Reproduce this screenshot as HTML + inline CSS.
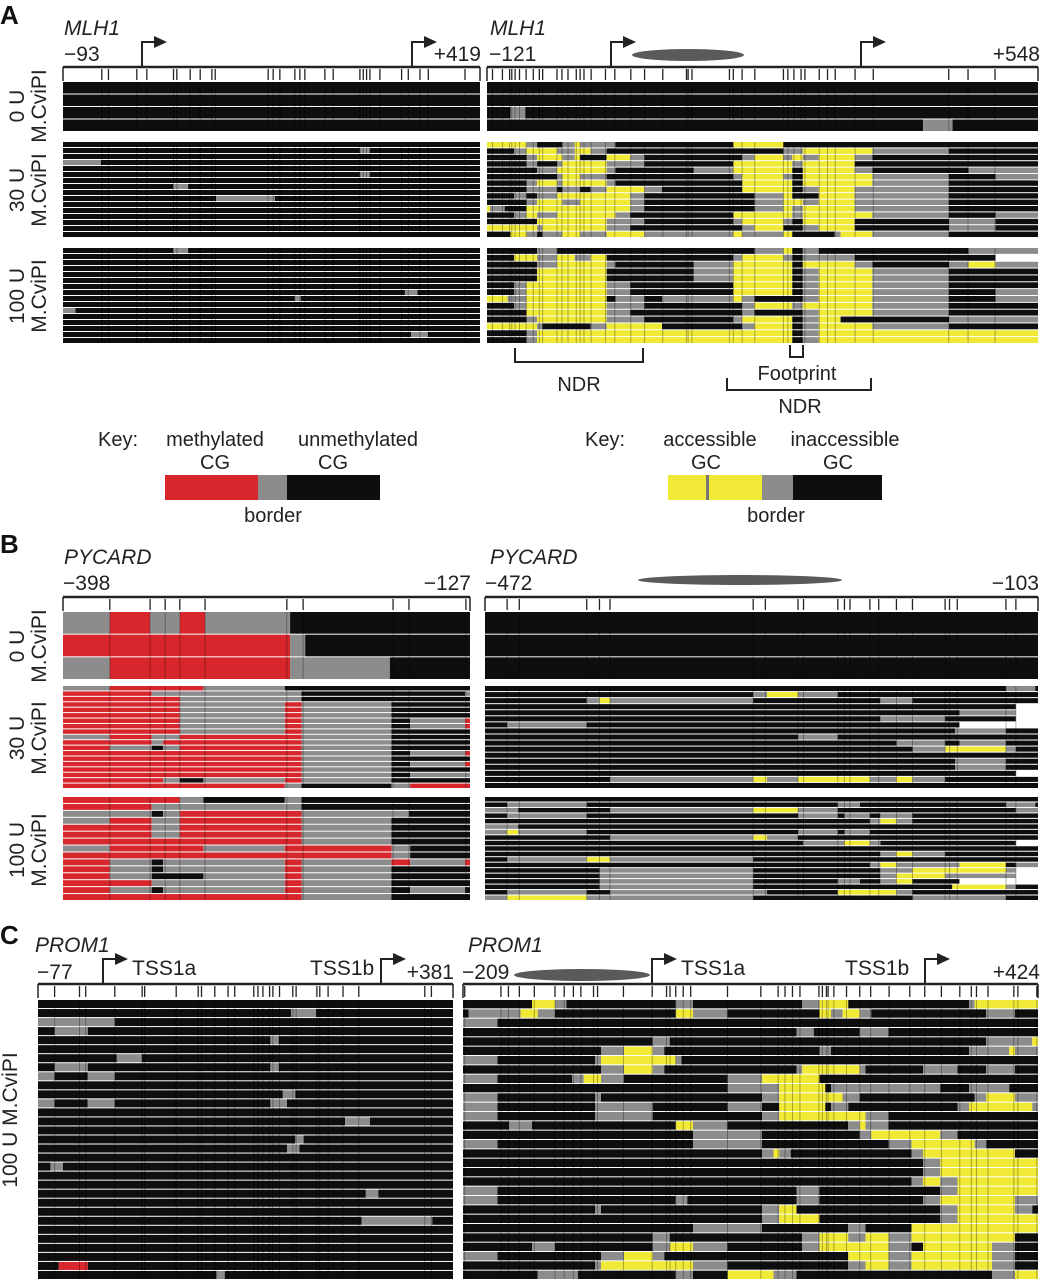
<!DOCTYPE html>
<html><head><meta charset="utf-8"><style>
html,body{margin:0;padding:0;background:#fff;width:1041px;height:1280px;overflow:hidden}
svg{display:block;font-family:"Liberation Sans",sans-serif}
</style></head><body>
<svg id="fig" width="1041" height="1280" viewBox="0 0 1041 1280" xmlns="http://www.w3.org/2000/svg"></svg>
<script>
// ---- data: rows as cumulative segment ends (k=inaccessible/unmethylated, g=border, y=accessible, r=methylated, w=no data)
const aLeft0 = ["k100","k100","k100","k100"];
const aLeft30 = ["k100","k71.2 g73.6 k100","k100","g9.1 k100","k100","k71.2 g73.6 k100","k100","k26.4 g30 k100","k100","k36.7 g50.8 k100","k100","k100","k100","k100","k100","k100"];
const aLeft100 = ["k26.4 g30 k100","k100","k100","k100","k100","k100","k100","k82 g85 k100","k55.6 g57 k100","k100","g3 k100","k100","k100","k100","k83.5 g87.5 k100","k100"];
const aRight0 = ["k100","k100","k4 g6.5 k100","k74 g79 k100"];
const aRight30 = [
"y6.7 g8.5 k12.8 g14.9 y15.8 g21.8 k41.8 y50.3 k100",
"k4.6 g6.7 y11.9 g14.9 y17.6 g20.3 k50.3 g53.6 y65.4 g78.4 k100",
"k6.7 g8.5 y12.8 g14.9 y15.8 k20.3 y24.3 g26.7 k43.3 g45.4 y50.3 g51.8 y53.6 g56.3 y62.4 g65.4 k100",
"k6.7 g8.5 k11.9 g12.8 y20.3 g26.7 k41.8 y51.8 g53.6 y62.4 k100",
"k8.5 g11.9 y20.3 g21.8 k35.1 g41.8 y51.8 k53.6 y62.4 g65.4 k81.7 g100",
"k11.9 g12.8 y15.8 g20.3 k41.8 g43.3 y50.3 g51.8 k53.6 y65.4 g78.4 k86.3 g100",
"k6.7 g8.5 y11.9 g12.8 y20.3 g21.8 k43.3 y51.8 k53.6 y65.4 g78.4 k100",
"k6.7 g11.9 k12.8 g15.8 k17.6 g20.3 y26.7 g29.7 k43.3 y51.8 k53.6 g56.3 y62.4 g78.4 k100",
"k4.6 g6.7 k8.5 g11.9 y24.3 g26.7 k45.4 g50.3 y51.8 k56.3 y62.4 g78.4 k100",
"k6.7 g8.5 y12.8 g15.8 y24.3 g26.7 k45.4 g50.3 y53.6 g56.3 y62.4 g78.4 k100",
"y0.5 g3 k6.7 y24.3 g26.7 k45.4 g50.3 y51.8 g53.6 y62.4 g78.4 k100",
"k4.6 g6.7 y8.5 g11.9 y21.8 g24.3 k41.8 y51.8 g53.6 y65.4 g78.4 k86.3 g100",
"k8.5 y20.3 g26.7 k41.8 g43.3 y50.3 g51.8 k53.6 y62.4 k78.4 g86.3 k100",
"y8.5 g9.4 y20.3 g24.3 k43.3 g45.4 y50.3 k53.6 g56.3 y62.4 k78.4 g86.3 k100",
"k4 y6.7 g8.5 k9.4 g12.8 y15.8 g20.3 y26.7 g41.8 y43.3 g50.3 y51.8 k59 g60 y65.4 g78.4 k100"];
const aRight100 = [
"k8.5 g11.9 k45.4 g50.3 y51.8 k53.6 g56.3 k81.7 g100",
"k4.6 y8.5 g11.9 y14.9 g17.6 y20.3 k41.8 g43.3 y50.3 g51.8 k53.6 g62.4 k86.3 w100",
"k8.5 g11.9 y20.3 g21.8 k35.1 g41.8 y51.8 k53.6 y62.4 g65.4 k78.4 g81.7 y86.3 g100",
"k8.5 y20.3 k35.1 g41.8 y51.8 k53.6 g56.3 y65.4 g78.4 k100",
"k8.5 y20.3 k35.1 g41.8 y51.8 k53.6 g56.3 y65.4 g78.4 k100",
"k4.6 g6.7 y20.3 g24.3 k41.8 y51.8 k53.6 g56.3 y65.4 g78.4 k100",
"k4.6 g6.7 y20.3 g24.3 k41.8 y51.8 k53.6 g56.3 y65.4 g78.4 k86.3 g100",
"y3.5 g6.7 y20.3 k21.8 g26.7 k29.7 g41.8 y43.3 g45.4 k53.6 g56.3 y65.4 g78.4 k86.3 g100",
"k4.6 g6.7 y20.3 g26.7 k43.3 g45.4 y51.8 g53.6 y65.4 g78.4 k100",
"k6.7 y20.3 g24.3 k43.3 g45.4 k53.6 g56.3 y65.4 g78.4 k100",
"k6.7 g8.5 y20.3 g26.7 k41.8 g43.3 y51.8 k53.6 g56.3 y60 k78.4 g100",
"y8.5 g9.4 k17.6 g20.3 y29.7 k43.3 g45.4 y51.8 k53.6 g56.3 y65.4 g78.4 k100",
"k6.7 g8.5 y51.8 k53.6 g56.3 y100",
"k6.7 g8.5 y51.8 k53.6 g56.3 y100"];
const bLeft0 = ["g11.5 r21.4 g28.7 r34.9 g55.8 k100","r55.8 g59.5 k100","g11.5 r55.8 g80.3 k100"];
const bLeft30 = [
"g11.5 r34.5 g54.5 k100","r21.8 g58.6 k98.8 g100","r28.7 g54.5 g58.6 k100",
"r28.7 g54.5 r58.6 g80.7 k100","r28.7 g54.5 r58.6 g80.7 k100","r28.7 g54.5 r58.6 g80.7 k100",
"r28.7 g54.5 r58.6 g80.7 k85.3 g98.8 r100","r28.7 g54.5 r58.6 g80.7 k85.3 g98.8 r100","r28.7 g54.5 r58.6 g80.7 k100",
"g11.5 r21.8 g28.7 r58.6 g80.7 k100","r21.8 g24.6 r58.6 g80.7 k100","r11.5 g21.8 k24.6 g28.7 r58.6 g80.7 k100",
"r58.6 g80.7 k85.3 g98.8 r100","r58.6 g80.7 k100","r58.6 g80.7 k85.3 g98.8 r100","r58.6 g80.7 k100",
"r58.6 g80.7 k85.3 g100","r24.6 g28.7 k34.5 g54.5 r58.6 g80.7 k100","r54.5 g58.6 k80.7 g85.3 r100"];
const bLeft100 = [
"r28.7 g34.5 k54.5 g58.6 k100","r21.8 g54.5 g58.6 k100","g21.8 k24.6 g28.7 r58.6 g85 k100",
"g11.5 r21.8 g28.7 r58.6 g80.7 k100","r21.8 g28.7 r58.6 g80.7 k100","r21.8 g28.7 r58.6 g80.7 k100",
"r58.6 g80.7 k100","g11.5 r34.5 g54.5 r80.7 g85.3 k100","r80.7 g85.3 k100",
"r11.5 g21.8 k24.6 g54.5 r58.6 g80.7 r85.3 g98.8 r100","r11.5 g21.8 k24.6 g54.5 r58.6 g80.7 k100","r11.5 g21.8 k34.5 g54.5 r58.6 g80.7 k100",
"r21.8 g24.6 g54.5 r58.6 g80.7 k100","r11.5 g21.8 k24.6 g54.5 r58.6 g80.7 k85.3 g98.8 k100","r58.6 g80.7 k100"];
const bRight0 = ["k100","k100","k100"];
const bRight30 = [
"k94.2 g99.5 k100","k48.5 g51 y56.6 g63.8 k100","k18.4 g20.7 y22.6 g48.5 k71.5 g77.3 k100","k96 w100",
"k85.8 g96 w100","k71.5 g83.2 k96 w100","k4 g18.4 k85.8 w100","k85 g94.2 k100","k56.6 g63.8 k100",
"k74.4 g83.2 k85.8 g94.2 k100","k77.3 g83.2 y94.2 g96 k100","k100","k85 g94.2 k100","k85 g94.2 k100","k96 w100",
"k22.6 g48.5 y51 g56.6 y69.6 g74.4 y77.3 g83.2 k100","k100"];
const bRight100 = [
"k100","k4 g18.4 k63.8 g67.8 k94.2 g99.5 k100","g6 k22.6 g48.5 y56.6 g63.8 k96 g100",
"k4 g18.4 k56.6 g63.8 k65 g69.6 k71.5 g77.3 k100","k69.6 g71.5 y74.4 g77.3 k100","g6 k100",
"g4 y6 g18.4 k56.6 g63.8 k65 g69.6 k100","k22.6 g48.5 y51 g56.6 k100","k57.5 g65 y69.6 g71.5 k96 w100",
"k100","k71.5 g74.4 y77.3 g83.2 k100","k4 g18.4 y22.6 g48.5 k100",
"k69.6 g71.5 y74.4 g85.8 y94.2 k96 g100","k20.7 g48.5 k71.5 g77.3 y94.2 g96 w100","k20.7 g48.5 k71.5 g74.4 y83.2 g96 w100",
"k20.7 g48.5 k63.8 g67.8 k71.5 g74.4 y77.3 k85.8 w100","k20.7 g48.5 k84.5 y94.2 g96 k100",
"k4 g18.4 k22.6 g51 k63.8 y74.4 g77.3 k100","g4 y18.4 g48.5 k77.3 g94.2 k100"];
const cLeft = ["k100","k61 g67 k100","g18.5 k100","k4 g12 k100","k56 g58 k100","k100","k19 g25 k100","k4 g12 k56 g58 k100",
"g4 k12 g18.5 k100","k100","k59 g62 k100","g4 k12 g18.5 k56 g60 k100","k100","k74 g80 k100","k100","k62 g64 k100",
"k60 g63 k100","k100","k3 g6 k100","k100","k100","k79 g82 k100","k100","k100","k78 g95 k100","k100","k100","k100","k100","k5 r12 k100","k43 g45 k100"];
const cRight = [
"k12 y16 g18 k37 g40 k59 g62 y67 k88 g89 y100","k1 g10 y13 g16 k37 y40 g46 k62 y64 g66 y69 g71 k91 g96 k100","g6 k100",
"k58 g61 k69 g74 k100","k33 g36 k91 g99 y100","k24 g28 y33 g35 k62 g64 k88 g95 y96 g100","g6 k23 g24 y37 g38 k100",
"k24 g28 y33 g35 k58 g59 y69 g70 k80 g86 k91 g96 k100","g6 k19 g21 y24 g28 k46 g52 y62 k100","k46 g55 y63 k64 g83 k88 g95 k100",
"g6 k23 g24 k52 g55 y66 g69 k89 g91 y96 g100","g6 k23 g33 k46 g52 k55 y63 k64 g67 k86 g88 y99 g100","g6 k23 g33 k52 g55 y70 g74 k100",
"k8 g12 k37 y40 g46 k67 g69 y70 g74 k100","k40 g52 k69 g71 y83 g86 k100","g6 k40 g52 k74 g78 y89 g91 k100",
"k52 g54 y55 g57 k78 g80 y96 k100","k80 g83 y100","k80 g83 y100","k78 g80 y83 g86 y100","g6 k58 g62 k83 g86 y100",
"g6 k37 g39 k58 g62 k80 g83 y96 g100","k23 g24 k52 g55 y58 k83 g86 y96 g99 k100","k52 g55 y62 k83 g86 y100",
"k40 g52 k67 g70 k78 y100","k33 g36 k59 g62 y67 g70 y74 g78 y96 k100","k12 g16 k33 g36 y40 g46 k59 g62 y74 g78 k80 y92 g96 k100",
"g6 k24 g28 y33 g35 k67 y74 g78 y92 g96 k100","k23 g24 y40 g46 k67 g70 y74 g78 y92 g96 k100","k13 g20 k37 g40 k46 y54 g58 k92 g96 y100"];
// tick positions (% along amplicon)
const aLeftTicks = [9.3,10.9,17.7,20.1,26.5,27.3,30.5,32.9,35.7,36.5,49.2,50.4,52,55.6,56.8,58,62.8,64.8,71.2,72,72.8,73.6,76,81.2,82.8,85.6,87.6,96.4];
const aRightTicks = [1,2.8,4.1,4.5,5.1,5.9,7.1,8.4,9.5,10.1,12.7,13.6,14.7,16.2,16.9,17.6,18.9,21.5,23.2,26.1,28.6,31.9,36.2,36.5,37.2,44,44.7,46.3,48.6,53.8,54.6,55.7,57,57.7,60.3,61.8,63.2,66.8,70.1,83.8,87.3,92.2];
const bLeftTicks = [11.5,21.4,25.1,28.7,34.9,55,59,81.1,85,99];
const bRightTicks = [4,6.2,18.4,20.7,22.6,48.5,50.7,56.6,57.6,63.8,65,66,69.6,71.2,74.4,77.3,83.2,84,85.4,94.2,96];
const cLeftTicks = [4,10,11.5,18.5,25.1,25.7,33.3,38.6,39.4,42.6,45.8,47.4,52,53,54.2,55.8,56.6,58.2,61.4,62.2,67.2,67.9,69.9,73.5,77.3,93.2,94.8];
const cRightTicks = [0.3,6.6,7.9,9.8,12.4,16,17.6,19.2,20.5,22.7,23.4,27.9,32.9,35.4,36,37,38.3,39.6,46,51.8,54.8,56,57.3,58.6,61.9,62.5,63.2,63.5,64.5,66.7,69,70.9,74.1,77.7,80.3,83.2,86.4,88.4,89.3,91.3,95.8,96.5,99.8];

const COL = {k:"#0e0e0e", g:"#8c8c8c", y:"#f0e935", r:"#d7262c", w:"#ffffff"};
const NS = "http://www.w3.org/2000/svg";
const svg = document.getElementById('fig');
function el(tag, attrs, parent){ const e=document.createElementNS(NS,tag); for(const k in attrs) e.setAttribute(k,attrs[k]); (parent||svg).appendChild(e); return e; }
function txt(x,y,s,size,extra,name){ const t=el('text',Object.assign({x:x,y:y,'font-size':size,fill:'#222'},extra||{})); t.textContent=s;
 
 
 return t; }
function xScale(x0,w,dmax){ const m = dmax||100; return p => x0 + w*Math.min(p/m,1); }

function heat(name, x, y, w, h, rows, ticks, dmax){
  const g = el('g',{});
  
  
  const sx = xScale(x,w,dmax), tx = xScale(x,w), rh = h/rows.length;
  rows.forEach((row,i)=>{
    let prev = 0;
    row.trim().split(/\s+/).forEach(tok=>{
      const c = tok[0], end = parseFloat(tok.slice(1));
      if(end>prev && sx(end)>sx(prev)){
        const r = el('rect',{x:sx(prev).toFixed(2), y:(y+i*rh).toFixed(2), width:(sx(end)-sx(prev)).toFixed(2), height:(rh-1).toFixed(2), fill:COL[c]}, g);
        
        
      }
      prev = end;
    });
  });
  ticks.forEach(p=>{
    const l = el('line',{x1:tx(p), x2:tx(p), y1:y, y2:y+h-1, stroke:'#000', 'stroke-opacity':0.3, 'stroke-width':1}, g);
    
    
  });
}
function axis(name, x, y, w, ticks){
  const g = el('g',{stroke:'#222', fill:'none'});
  
  
  const sx = xScale(x,w);
  el('line',{x1:x,x2:x+w,y1:y,y2:y,'stroke-width':2.5},g);
  el('line',{x1:x,x2:x,y1:y,y2:y+14,'stroke-width':1.5},g);
  el('line',{x1:x+w,x2:x+w,y1:y,y2:y+14,'stroke-width':1.5},g);
  ticks.forEach(p=>{
    const l = el('line',{x1:sx(p),x2:sx(p),y1:y+2,y2:y+13,'stroke-width':1.3},g);
    
    
  });
}
function arrow(x, y){
  const g = el('g',{});
  
  
  el('path',{d:`M${x},${y} V${y-25} H${x+14}`, stroke:'#222','stroke-width':2, fill:'none'},g);
  el('path',{d:`M${x+12},${y-31} L${x+25},${y-25} L${x+12},${y-19} Z`, fill:'#222'},g);
}
function nuc(cx, cy, rx, ry){
  const e = el('ellipse',{cx:cx,cy:cy,rx:rx,ry:ry,fill:'#5a5a5a'});
  
  
}
function ylab(cx, cy, s, name, size){
  const t = el('text',{x:0,y:0,'font-size':size||21,fill:'#222','text-anchor':'middle',transform:`translate(${cx},${cy}) rotate(-90)`});
  t.textContent = s;
  
  
}
// bracket with horizontal bar at bottom (ticks rise from it)
function bracket(x1,x2,ytop,ybot,name){
  const p = el('path',{d:`M${x1},${ytop} V${ybot} H${x2} V${ytop}`, stroke:'#222','stroke-width':2,fill:'none'});
  
  
}

// ===== Panel A =====
txt(0,24,'A',26,{'font-weight':'bold',fill:'#111'},'panel-a-label');
txt(64,35,'MLH1',21,{'font-style':'italic'},'gene-mlh1-left');
txt(64,61,'−93',21,{},'coord-start');
txt(481,61,'+419',21,{'text-anchor':'end'},'coord-end');
arrow(142,67); arrow(412,67);
axis('axis-a-left',63,67,417,aLeftTicks);
heat('heatmap-a-left-0u',63,82,417,50,aLeft0,aLeftTicks);
heat('heatmap-a-left-30u',63,142,417,96,aLeft30,aLeftTicks);
heat('heatmap-a-left-100u',63,248,417,96,aLeft100,aLeftTicks);
txt(490,35,'MLH1',21,{'font-style':'italic'},'gene-mlh1-right');
txt(489,61,'−121',21,{},'coord-start');
txt(1040,61,'+548',21,{'text-anchor':'end'},'coord-end');
nuc(688,55,56,6);
arrow(611,67); arrow(861,67);
axis('axis-a-right',487,67,551,aRightTicks);
heat('heatmap-a-right-0u',487,82,551,50,aRight0,aRightTicks,93.5);
heat('heatmap-a-right-30u',487,142,551,96,aRight30,aRightTicks,93.5);
heat('heatmap-a-right-100u',487,248,551,96,aRight100,aRightTicks,93.5);
ylab(24,106,'0 U','label-0u'); ylab(46,106,'M.CviPI','label-mcvipi');
ylab(24,190,'30 U','label-30u'); ylab(46,190,'M.CviPI','label-mcvipi');
ylab(24,296,'100 U','label-100u'); ylab(46,296,'M.CviPI','label-mcvipi');
bracket(515,643,348,362,'ndr-bracket');
txt(579,391,'NDR',20,{'text-anchor':'middle'},'ndr-label');
bracket(790,803,345,357,'footprint-bracket');
txt(797,380,'Footprint',20,{'text-anchor':'middle'},'footprint-label');
bracket(727,871,378,390,'ndr-bracket');
txt(800,413,'NDR',20,{'text-anchor':'middle'},'ndr-label');

// keys
txt(98,446,'Key:',20,{},'key-label');
txt(215,446,'methylated',20,{'text-anchor':'middle'},'key-methylated');
txt(358,446,'unmethylated',20,{'text-anchor':'middle'},'key-unmethylated');
txt(215,469,'CG',20,{'text-anchor':'middle'},'key-cg');
txt(333,469,'CG',20,{'text-anchor':'middle'},'key-cg');
el('rect',{x:165,y:475,width:93,height:25,fill:COL.r});
el('rect',{x:258,y:475,width:29,height:25,fill:COL.g});
el('rect',{x:287,y:475,width:93,height:25,fill:COL.k});
txt(273,522,'border',20,{'text-anchor':'middle'},'key-border');
txt(585,446,'Key:',20,{},'key-label');
txt(710,446,'accessible',20,{'text-anchor':'middle'},'key-accessible');
txt(845,446,'inaccessible',20,{'text-anchor':'middle'},'key-inaccessible');
txt(706,469,'GC',20,{'text-anchor':'middle'},'key-gc');
txt(838,469,'GC',20,{'text-anchor':'middle'},'key-gc');
el('rect',{x:668,y:475,width:94,height:25,fill:COL.y});
el('rect',{x:706,y:475,width:3,height:25,fill:'#777'});
el('rect',{x:762,y:475,width:31,height:25,fill:COL.g});
el('rect',{x:793,y:475,width:89,height:25,fill:COL.k});
txt(776,522,'border',20,{'text-anchor':'middle'},'key-border');

// ===== Panel B =====
txt(0,553,'B',26,{'font-weight':'bold',fill:'#111'},'panel-b-label');
txt(64,564,'PYCARD',21,{'font-style':'italic'},'gene-pycard-left');
txt(63,590,'−398',21,{},'coord-start');
txt(471,590,'−127',21,{'text-anchor':'end'},'coord-end');
axis('axis-b-left',63,597,407,bLeftTicks);
heat('heatmap-b-left-0u',63,612,407,68,bLeft0,bLeftTicks);
heat('heatmap-b-left-30u',63,686,407,103,bLeft30,bLeftTicks);
heat('heatmap-b-left-100u',63,797,407,104,bLeft100,bLeftTicks);
txt(490,564,'PYCARD',21,{'font-style':'italic'},'gene-pycard-right');
txt(485,590,'−472',21,{},'coord-start');
txt(1039,590,'−103',21,{'text-anchor':'end'},'coord-end');
nuc(740,580,102,5);
axis('axis-b-right',485,597,553,bRightTicks);
heat('heatmap-b-right-0u',485,612,553,68,bRight0,bRightTicks);
heat('heatmap-b-right-30u',485,686,553,103,bRight30,bRightTicks);
heat('heatmap-b-right-100u',485,797,553,104,bRight100,bRightTicks);
ylab(24,646,'0 U','label-0u'); ylab(46,646,'M.CviPI','label-mcvipi');
ylab(24,738,'30 U','label-30u'); ylab(46,738,'M.CviPI','label-mcvipi');
ylab(24,850,'100 U','label-100u'); ylab(46,850,'M.CviPI','label-mcvipi');

// ===== Panel C =====
txt(0,944,'C',26,{'font-weight':'bold',fill:'#111'},'panel-c-label');
txt(35,952,'PROM1',21,{'font-style':'italic'},'gene-prom1-left');
txt(37,979,'−77',21,{},'coord-start');
txt(132,975,'TSS1a',21,{},'tss1a-label');
txt(310,975,'TSS1b',21,{},'tss1b-label');
txt(454,979,'+381',21,{'text-anchor':'end'},'coord-end');
arrow(103,984); arrow(381,984);
axis('axis-c-left',38,984,415,cLeftTicks);
heat('heatmap-c-left-100u',38,1000,415,280,cLeft,cLeftTicks);
txt(468,952,'PROM1',21,{'font-style':'italic'},'gene-prom1-right');
txt(462,979,'−209',21,{},'coord-start');
nuc(582,975,68,6);
txt(681,975,'TSS1a',21,{},'tss1a-label');
txt(845,975,'TSS1b',21,{},'tss1b-label');
txt(1040,979,'+424',21,{'text-anchor':'end'},'coord-end');
arrow(652,984); arrow(925,984);
axis('axis-c-right',463,984,575,cRightTicks);
heat('heatmap-c-right-100u',463,1000,575,280,cRight,cRightTicks);
ylab(17,1120,'100 U M.CviPI','label-100u-mcvipi');
</script>
</body></html>
